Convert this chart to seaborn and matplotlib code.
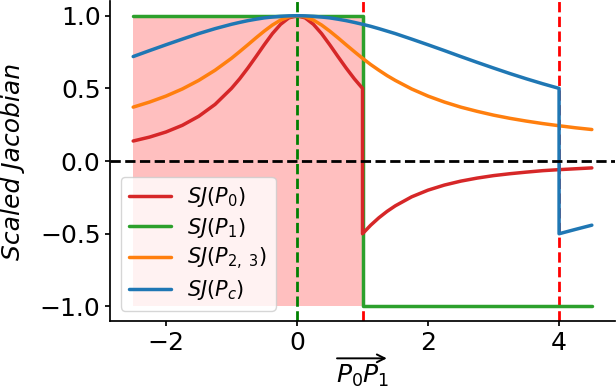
import matplotlib
matplotlib.use("Agg")
import matplotlib.pyplot as plt
import seaborn as sns
import pandas as pd

# --- Data ---
# x positions along P0P1; 1.0 and 4.0 appear twice so the jumps are drawn as vertical segments
x_pos = [-2.5, -2.25, -2.0, -1.75, -1.5, -1.25, -1.0, -0.875, -0.75, -0.625, -0.5, -0.375,
         -0.25, -0.125, 0.0, 0.125, 0.25, 0.375, 0.5, 0.625, 0.75, 0.875, 1.0,
         1.0, 1.125, 1.25, 1.375, 1.5, 1.75, 2.0, 2.25, 2.5, 2.75, 3.0, 3.25, 3.5, 3.75, 4.0,
         4.0, 4.25, 4.5]

sj_p0 = [0.138, 0.165, 0.200, 0.246, 0.308, 0.390, 0.500, 0.566, 0.640, 0.719, 0.800, 0.877,
         0.941, 0.985, 1.000, 0.985, 0.941, 0.877, 0.800, 0.719, 0.640, 0.566, 0.500,
         -0.500, -0.441, -0.390, -0.346, -0.308, -0.246, -0.200, -0.165, -0.138, -0.117,
         -0.100, -0.087, -0.076, -0.066, -0.059,
         -0.059, -0.053, -0.047]

sj_p1 = [1.0] * 23 + [-1.0] * 18

sj_p23 = [0.371, 0.406, 0.447, 0.496, 0.555, 0.625, 0.707, 0.753, 0.800, 0.848, 0.894, 0.936,
          0.970, 0.992, 1.000, 0.992, 0.970, 0.936, 0.894, 0.848, 0.800, 0.753, 0.707,
          0.707, 0.664, 0.625, 0.588, 0.555, 0.496, 0.447, 0.406, 0.371, 0.342, 0.316,
          0.294, 0.275, 0.258, 0.243,
          0.243, 0.229, 0.217]

sj_pc = [0.719, 0.760, 0.800, 0.839, 0.877, 0.911, 0.941, 0.954, 0.966, 0.976, 0.985, 0.991,
         0.996, 0.999, 1.000, 0.999, 0.996, 0.991, 0.985, 0.976, 0.966, 0.954, 0.941,
         0.941, 0.927, 0.911, 0.894, 0.877, 0.839, 0.800, 0.760, 0.719, 0.679, 0.640,
         0.602, 0.566, 0.532, 0.500,
         -0.500, -0.470, -0.441]

series_labels = [r'$SJ(P_0)$', r'$SJ(P_1)$', r'$SJ(P_{2,\ 3})$', r'$SJ(P_c)$']
series_colors = ['#d62728', '#2ca02c', '#ff7f0e', '#1f77b4']

valid_range = [-2.5, 1.0]   # shaded region
green_marks = [0.0]
red_marks = [1.0, 4.0]

df = pd.DataFrame({'x': x_pos, 'p0': sj_p0, 'p1': sj_p1, 'p23': sj_p23, 'pc': sj_pc})

sns.set_theme(style="ticks", rc={
    'axes.edgecolor': 'black', 'xtick.color': 'black', 'ytick.color': 'black',
    'text.color': 'black', 'axes.labelcolor': 'black',
    'axes.linewidth': 1.25, 'xtick.major.size': 3.5, 'ytick.major.size': 3.5,
    'xtick.major.width': 1.25, 'ytick.major.width': 1.25,
})
plt.rcParams['font.family'] = ['DejaVu Sans']

fig, ax = plt.subplots(figsize=(6.16, 3.9), dpi=100)
fig.subplots_adjust(left=0.179, right=0.998, top=0.997, bottom=0.177)

ax.fill_between(valid_range, -1, 1, color='red', alpha=0.25, linewidth=0, zorder=1)
for xv in green_marks:
    ax.axvline(xv, color='green', linestyle='--', linewidth=2, zorder=1.5)
for xv in red_marks:
    ax.axvline(xv, color='red', linestyle='--', linewidth=2, zorder=1.5)

zorders = [2.2, 2.0, 2.3, 2.4]
for col, label, color, z in zip(['p0', 'p1', 'p23', 'pc'], series_labels, series_colors, zorders):
    sns.lineplot(data=df, x='x', y=col, ax=ax, color=color, label=label,
                 estimator=None, sort=False, linewidth=2.5, zorder=z)

ax.axhline(0, color='black', linestyle='--', linewidth=2, zorder=2.5)

ax.set_xlabel(r'$P_0P_1$', fontsize=18, labelpad=6)
ax.set_ylabel('Scaled Jacobian', fontsize=18, fontstyle='italic', labelpad=11)
ax.tick_params(labelsize=18)
ax.set_yticks([-1.0, -0.5, 0.0, 0.5, 1.0])
ax.set_xticks([-2, 0, 2, 4])
ax.legend(loc='lower left', fontsize=15, labelspacing=0.3)
sns.despine(ax=ax)

# vector arrow over the x label
fig.canvas.draw()
bb = ax.xaxis.label.get_window_extent().transformed(fig.transFigure.inverted())
ay = bb.y1 + 0.012
ax.annotate('', xy=(bb.x1 - 0.004, ay), xytext=(bb.x0 + 0.002, ay),
            xycoords='figure fraction', textcoords='figure fraction',
            arrowprops=dict(arrowstyle='->', lw=1.4, color='black',
                            shrinkA=0, shrinkB=0, mutation_scale=14),
            annotation_clip=False)

plt.savefig('out.png', dpi=100)
plt.close()
